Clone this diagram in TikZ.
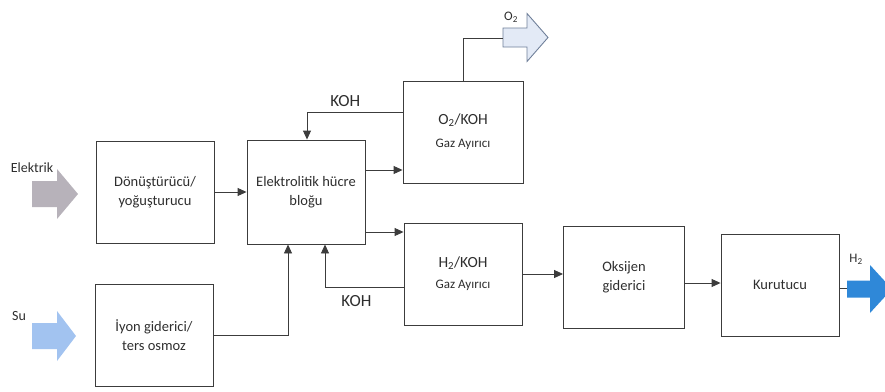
\documentclass[tikz,border=0pt]{standalone}
\usepackage{fontspec}
\setmainfont{Carlito}
\usetikzlibrary{arrows.meta}
\definecolor{LineGrey}{HTML}{3C3C3C}
\definecolor{TextGrey}{HTML}{2E2E2E}
\definecolor{ElecGrey}{HTML}{B7B2BA}
\definecolor{WaterBlue}{HTML}{A2C3F0}
\definecolor{OxyFill}{HTML}{E3EAF6}
\definecolor{OxyLine}{HTML}{6F7F99}
\definecolor{HydroBlue}{HTML}{2F88D8}

% tail x, head start x, tip x, centre y, shaft half, head half, style
\newcommand\fatarrow[7]{%
  \path[#7] (#1,#4-#5) -- (#2,#4-#5) -- (#2,#4-#6) -- (#3,#4) -- (#2,#4+#6) -- (#2,#4+#5) -- (#1,#4+#5) -- cycle;}

\begin{document}
\begin{tikzpicture}[
    x=1pt, y=-1pt,
    block/.style={draw=LineGrey, line width=0.9pt, align=center, text=TextGrey, minimum width=118pt, minimum height=102pt, inner sep=2pt, font=\fontsize{14.5}{19}\selectfont},
    flow/.style={-{Triangle[length=9pt,width=8pt]}, line width=0.9pt, color=LineGrey},
    pipe/.style={line width=0.9pt, color=LineGrey},
    flowlabel/.style={text=TextGrey, inner sep=0pt, font=\fontsize{14}{16}\selectfont}
  ]
    \useasboundingbox (0,0) rectangle (885,391);

    % process blocks
    \node[block] (conv) at (155,192) {Dönüştürücü/\\yoğuşturucu};
    \node[block] (deion) at (154,335) {İyon giderici/\\ters osmoz};
    \node[block, minimum height=104pt] (cell) at (306,192) {Elektrolitik hücre\\bloğu};
    \node[block, minimum width=120pt] (osep) at (463,132) {\fontsize{15.5}{18}\selectfont O\textsubscript{2}/KOH\\[4pt]\fontsize{13}{15}\selectfont Gaz Ayırıcı};
    \node[block] (hsep) at (463,274) {\fontsize{15.5}{18}\selectfont H\textsubscript{2}/KOH\\[2pt]\fontsize{13}{15}\selectfont Gaz Ayırıcı};
    \node[block, minimum width=121pt] (deox) at (624,277) {Oksijen\\giderici};
    \node[block] (dryer) at (780,285) {Kurutucu};

    % inputs and outputs
    \fatarrow{32}{57}{78}{194}{13}{25}{fill=ElecGrey}
    \fatarrow{32}{57}{76}{336}{13}{25}{fill=WaterBlue}
    \fatarrow{503}{527}{548}{37.5}{9.5}{24}{fill=OxyFill, draw=OxyLine, line width=0.9pt}
    \fatarrow{847}{870}{892}{289}{8.5}{24}{fill=HydroBlue}
    \node[flowlabel] (elec) at (32,168) {Elektrik};
    \node[flowlabel] (water) at (19,316) {Su};
    \node[flowlabel, font=\fontsize{13}{15}\selectfont] (oxy) at (511,17) {O\textsubscript{2}};
    \node[flowlabel, font=\fontsize{13}{15}\selectfont] (hydro) at (856,259) {H\textsubscript{2}};
    \coordinate (oxyin) at (503,38);
    \coordinate (hydroin) at (847,288);

    % connections
    \draw[flow] (conv) -- (cell);
    \draw[flow] (deion.east) -| ([xshift=-18pt]cell.south);
    \draw[flow] (cell.east |- 0,170) -- (osep.west |- 0,170);
    \draw[flow] (cell.east |- 0,232) -- (hsep.west |- 0,232);
    \draw[flow] (osep.west |- 0,112) -| (cell.north -| 307,0) node[flowlabel, pos=0.3, above=5pt, font=\fontsize{17}{19}\selectfont] {KOH};
    \draw[flow] (hsep.west |- 0,287) -| (cell.south -| 325,0) node[flowlabel, pos=0.3, below=8pt, font=\fontsize{17}{19}\selectfont] {KOH};
    \draw[flow] (hsep.east |- 0,274) -- (deox.west |- 0,274);
    \draw[flow] (deox.east |- 0,283) -- (dryer.west |- 0,283);
    \draw[pipe] (dryer.east |- hydroin) -- (hydroin);
    \draw[pipe] (osep.north) |- (oxyin);
  \end{tikzpicture}
\end{document}
